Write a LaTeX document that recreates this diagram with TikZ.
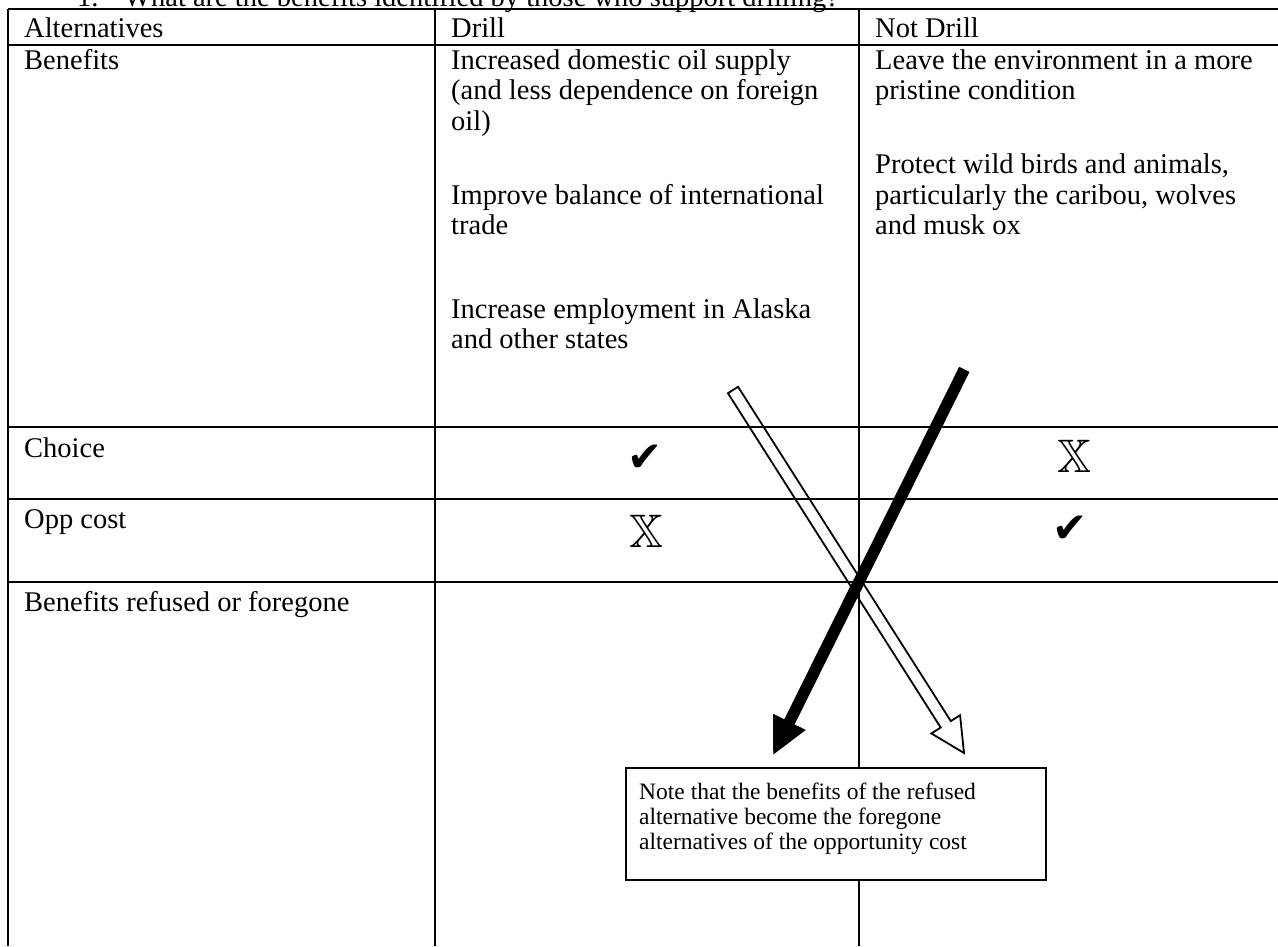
\documentclass[tikz,border=0pt]{standalone}
\usepackage{amssymb}
\usepackage{fontspec}
\setmainfont{Liberation Serif}
\newfontfamily\symfont{DejaVu Sans}
\usetikzlibrary{calc}
\newcommand{\fatarrow}[5]{%
  \coordinate (#5b) at ($(#2)!34pt!(#1)$);
  \draw[#4] ($(#1)!#3!90:(#2)$) -- ($(#5b)!#3!90:(#2)$) -- ($(#5b)!17pt!90:(#2)$) -- (#2)
    -- ($(#5b)!17pt!-90:(#2)$) -- ($(#5b)!#3!-90:(#2)$) -- ($(#1)!#3!-90:(#2)$) -- cycle;
}
\begin{document}
\begin{tikzpicture}[x=1pt,y=-1pt,
  grid/.style={line width=2pt, black},
  txt/.style={anchor=base west, inner sep=0pt, font=\fontsize{28.5}{31}\selectfont},
  notetxt/.style={anchor=base west, inner sep=0pt, font=\fontsize{23.5}{26}\selectfont},
  chk/.style={inner sep=0pt, font=\symfont\fontsize{42}{42}\selectfont},
  xmark/.style={inner sep=0pt, font=\fontsize{47}{47}\selectfont},
  notebox/.style={draw, line width=1.8pt, fill=white, inner sep=0pt, anchor=north west,
    minimum width=420pt, minimum height=112pt},
  whitearrow/.style={draw=black, line width=1.8pt, line join=miter},
  blackarrow/.style={draw=black, fill=black, line width=1.5pt, line join=miter}]
\useasboundingbox (0,0) rectangle (1278,946);
\clip (0,0) rectangle (1278,946);
% title (cut off at top)
\node[txt] (t1) at (77,6) {1.};
\node[txt] (t2) at (124,6) {What are the benefits identified by those who support drilling?};
% grid
\draw[grid] (8,9) -- (1278,9);
\draw[grid] (8,45) -- (1278,45);
\draw[grid] (8,427) -- (1278,427);
\draw[grid] (8,499) -- (1278,499);
\draw[grid] (8,582) -- (1278,582);
\draw[grid] (8,9) -- (8,946);
\draw[grid] (435,9) -- (435,946);
\draw[grid] (859,9) -- (859,946);
% header
\node[txt] (h1) at (24,37) {Alternatives};
\node[txt] (h2) at (451,37) {Drill};
\node[txt] (h3) at (875,37) {Not Drill};
% left column
\node[txt] (r1) at (24,69) {Benefits};
\node[txt] (r2) at (24,457) {Choice};
\node[txt] (r3) at (24,528) {Opp cost};
\node[txt] (r4) at (24,611) {Benefits refused or foregone};
% drill benefits
\node[txt] (d1) at (451,69) {Increased domestic oil supply};
\node[txt] (d2) at (451,99.5) {(and less dependence on foreign};
\node[txt] (d3) at (451,130) {oil)};
\node[txt] (d4) at (451,204) {Improve balance of international};
\node[txt] (d5) at (451,234.5) {trade};
\node[txt] (d6) at (451,318) {Increase employment in Alaska};
\node[txt] (d7) at (451,348.5) {and other states};
% not drill benefits
\node[txt] (n1) at (875,69) {Leave the environment in a more};
\node[txt] (n2) at (875,99.5) {pristine condition};
\node[txt] (n3) at (875,173.5) {Protect wild birds and animals,};
\node[txt] (n4) at (875,204) {particularly the caribou, wolves};
\node[txt] (n5) at (875,234.5) {and musk ox};
% marks
\node[chk] (c1) at (645,458) {✔};
\node[xmark] (x1) at (1074,456) {$\mathbb{X}$};
\node[xmark] (x2) at (646,531) {$\mathbb{X}$};
\node[chk] (c2) at (1070,529) {✔};
% note box
\node[notebox] (note) at (625,767) {};
\node[notetxt] (l1) at (639,799) {Note that the benefits of the refused};
\node[notetxt] (l2) at (639,824) {alternative become the foregone};
\node[notetxt] (l3) at (639,849) {alternatives of the opportunity cost};
% arrows
\coordinate (wt) at (733,390);
\coordinate (wh) at (964,753);
\coordinate (bt) at (964,370);
\coordinate (bh) at (774,753);
\fatarrow{wt}{wh}{6pt}{whitearrow}{w}
\fatarrow{bt}{bh}{5pt}{blackarrow}{k}
\end{tikzpicture}
\end{document}
